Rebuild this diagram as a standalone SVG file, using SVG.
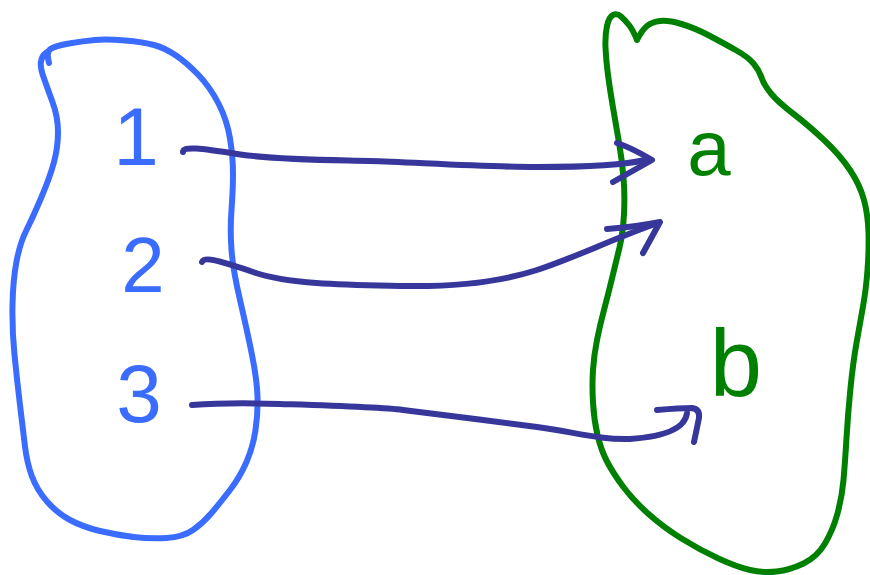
<svg xmlns="http://www.w3.org/2000/svg" width="870" height="575" viewBox="0 0 870 575">
<style>
.blob{fill:none;stroke-width:6;stroke-linecap:round;stroke-linejoin:round}
.blue{stroke:#3a6cff}
.green{stroke:#008000}
.lbl{font-family:"Liberation Sans",Arial,sans-serif;text-anchor:middle}
.lb{fill:#3a6cff}
.lg{fill:#008000}
.arr{fill:none;stroke:#37379b;stroke-width:6;stroke-linecap:round;stroke-linejoin:round}
</style>
<rect width="870" height="575" fill="#ffffff"/>
<g id="setA">
<path class="blob blue" d="M49,63 Q46,52 50.5,49 Q55,46 69,43.5 Q83,41 95,40 Q107,39 125,40.5 Q143,42 154,45 Q165,48 176,55.5 Q187,63 198.5,75 Q210,87 218.5,103.5 Q227,120 230,138.5 Q233,157 233,173.5 Q233,190 231.5,210 Q230,230 231.5,250 Q233,270 240,300 Q247,330 252,355 Q257,380 257.5,396.5 Q258,413 255.5,430 Q253,447 246.5,462 Q240,477 230,490 Q220,503 211.5,513 Q203,523 193,530 Q183,537 166.5,538 Q150,539 133.5,537 Q117,535 100,531 Q83,527 70,520 Q57,513 47,501.5 Q37,490 32,476.5 Q27,463 25,446.5 Q23,430 20,405 Q17,380 14.5,355 Q12,330 12.5,305 Q13,280 16.5,261.5 Q20,243 26.5,230 Q33,217 41.5,197 Q50,177 54,162 Q58,147 58,132 Q58,117 52.5,102 Q47,87 43.5,77 Q40,67 41,61.5 Q42,56 44.5,54 L47,52"/>
</g>
<g id="n1"><text class="lbl lb" x="136" y="165" font-size="82">1</text></g>
<g id="n2"><text class="lbl lb" x="143" y="292" font-size="78">2</text></g>
<g id="n3"><text class="lbl lb" x="139" y="422" font-size="82">3</text></g>
<g id="setB">
<path class="blob green" d="M637,40 Q633,30 629,25 Q625,20 621,16.5 Q617,13 613,15 Q609,17 607,26 Q605,35 605.5,47.5 Q606,60 608,75 Q610,90 613,107.5 Q616,125 619,142.5 Q622,160 623.5,177.5 Q625,195 624,214 Q623,233 619.5,247.5 Q616,262 612,278.5 Q608,295 604,310 Q600,325 597,340 Q594,355 593,370 Q592,385 593,402.5 Q594,420 597.5,435 Q601,450 607,461.5 Q613,473 623,486.5 Q633,500 648,513.5 Q663,527 681.5,538.5 Q700,550 718.5,558.5 Q737,567 750,570 Q763,573 776.5,571.5 Q790,570 803.5,563.5 Q817,557 825,543.5 Q833,530 837.5,513.5 Q842,497 843.5,480 Q845,463 846.5,438 Q848,413 850.5,388 Q853,363 856.5,343 Q860,323 863,306.5 Q866,290 867.5,270 Q869,250 868.5,232.5 Q868,215 864,200 Q860,185 850,170 Q840,155 824,140 Q808,125 793,113.5 Q778,102 771,93.5 Q764,85 761.5,77.5 Q759,70 753.5,63.5 Q748,57 736.5,50.5 Q725,44 710,36 Q695,28 681.5,24 Q668,20 660,21 Q652,22 647,26 Q642,30 637,40"/>
</g>
<g id="na"><text class="lbl lg" x="709" y="175" font-size="78">a</text></g>
<g id="nb"><text class="lbl lg" x="736" y="396" font-size="94">b</text></g>
<g id="connectors">
<path class="arr" d="M183,152 C183,146 200,148 237,154 S330,160 370,161 S480,167 537,167 S625,165 645,160"/>
<path class="arr" d="M617,143 Q632,148 652,160 L613,182"/>
<path class="arr" d="M202,262 C204,257 215,259 253,272 S350,285 403,286 S500,282 537,270 S610,240 655,224"/>
<path class="arr" d="M607,229 Q635,227 660,222 L643,253"/>
<path class="arr" d="M192,405 C220,403 250,403 280,404 S380,407 403,410 S500,422 537,427 S600,440 630,439 C660,437 685,430 687,413"/>
<path class="arr" d="M657,410 Q680,408 692,408 Q700,409 699,418 L694,442"/>
</g>
</svg>
